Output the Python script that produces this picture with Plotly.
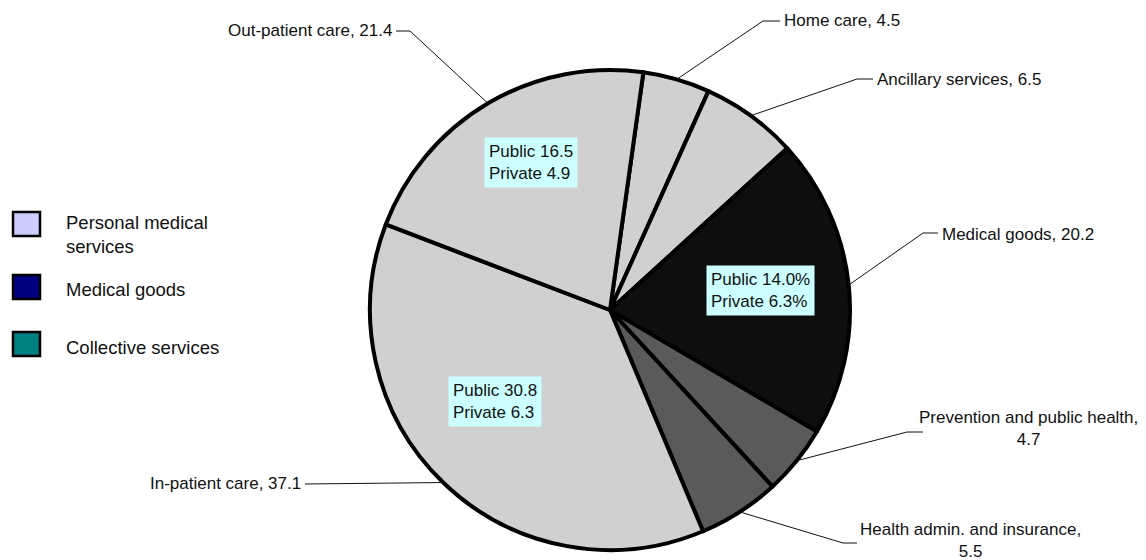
import math
import plotly.graph_objects as go

# ---- data ----
categories = ["Home care", "Ancillary services", "Medical goods",
              "Prevention and public health", "Health admin. and insurance",
              "In-patient care", "Out-patient care"]
values = [4.5, 6.5, 20.2, 4.7, 5.5, 37.1, 21.4]
slice_colors = ["#d0d0d0", "#d0d0d0", "#0e0e0e", "#5a5a5a", "#5a5a5a", "#d0d0d0", "#d0d0d0"]
public_private = {
    "Out-patient care": ("Public 16.5", "Private 4.9"),
    "Medical goods": ("Public 14.0%", "Private 6.3%"),
    "In-patient care": ("Public 30.8", "Private 6.3"),
}
legend_labels = ["Personal medical<br>services", "Medical goods", "Collective services"]
legend_colors = ["#ccccff", "#000080", "#008080"]

# ---- layout geometry (page pixels; the page body has an 8px margin) ----
OFF = 8
W, H = 1146 - OFF, 560 - OFF
CX, CY, R = 610, 310, 240
ROT = 8.0
FONT = "Liberation Sans, Arial, sans-serif"


def px(x):
    return (x - OFF) / W


def py(y):
    return 1 - (y - OFF) / H


fig = go.Figure(go.Pie(
    labels=categories, values=values, sort=False, direction="clockwise",
    rotation=ROT, textinfo="none", hoverinfo="label+value",
    marker=dict(colors=slice_colors, line=dict(color="black", width=4)),
    domain=dict(x=[px(CX - R), px(CX + R)], y=[py(CY + R), py(CY - R)]),
    showlegend=False,
))

# slice midpoints on the rim, from the data
total = sum(values)
edge = {}
cum = 0.0
for c, v in zip(categories, values):
    mid = math.radians(ROT + (cum + v / 2) / total * 360)
    edge[c] = (CX + R * math.sin(mid), CY - R * math.cos(mid))
    cum += v

# label placement: (text x, text y, xanchor, elbow-start x, elbow-end x, elbow y)
label_pos = {
    "Out-patient care": (394, 31, "right", 396, 410, 31),
    "Home care": (782, 21, "left", 780, 763, 21),
    "Ancillary services": (875, 79, "left", 873, 857, 79),
    "Medical goods": (940, 234, "left", 938, 923, 233),
    "Prevention and public health": (1028, 428, "center", 923, 907, 432),
    "Health admin. and insurance": (970, 540, "center", 857, 843, 543),
    "In-patient care": (303, 483, "right", 305, 305, 484),
}

annotations = []
shapes = []
for c, v in zip(categories, values):
    tx, ty, xa, e1, e2, ey = label_pos[c]
    if c in ("Prevention and public health", "Health admin. and insurance"):
        txt = f"{c},<br>{v}"
    else:
        txt = f"{c}, {v}"
    annotations.append(dict(x=px(tx), y=py(ty), xref="paper", yref="paper",
                            text=txt, showarrow=False, xanchor=xa, yanchor="middle",
                            align="center", font=dict(family=FONT, size=17, color="#111")))
    ex, eyy = edge[c]
    shapes.append(dict(type="line", xref="paper", yref="paper",
                       x0=px(e1), y0=py(ey), x1=px(e2), y1=py(ey),
                       line=dict(color="#111", width=1)))
    shapes.append(dict(type="line", xref="paper", yref="paper",
                       x0=px(e2), y0=py(ey), x1=px(ex), y1=py(eyy),
                       line=dict(color="#111", width=1)))

box_pos = {"Out-patient care": (531, 162), "Medical goods": (760, 291), "In-patient care": (495, 401)}
for c, (a, b) in public_private.items():
    bx, by = box_pos[c]
    annotations.append(dict(x=px(bx), y=py(by), xref="paper", yref="paper",
                            text=f"{a}<br>{b}", showarrow=False, align="left",
                            xanchor="center", yanchor="middle",
                            bgcolor="#ccffff", borderpad=4,
                            font=dict(family=FONT, size=17, color="#111")))

# custom legend
leg_y = [224, 287, 344]
leg_text_y = [235, 289, 347]
for lab, col, sy, tyy in zip(legend_labels, legend_colors, leg_y, leg_text_y):
    shapes.append(dict(type="rect", xref="paper", yref="paper",
                       x0=px(13), x1=px(40), y0=py(sy - 12), y1=py(sy + 12),
                       fillcolor=col, line=dict(color="black", width=2.5)))
    annotations.append(dict(x=px(64), y=py(tyy), xref="paper", yref="paper",
                            text=lab, showarrow=False, xanchor="left", yanchor="middle",
                            align="left", font=dict(family=FONT, size=18.5, color="#111")))

fig.update_layout(width=W, height=H, margin=dict(l=0, r=0, t=0, b=0),
                  paper_bgcolor="white", plot_bgcolor="white",
                  annotations=annotations, shapes=shapes, showlegend=False)
fig.write_html("out.html")
